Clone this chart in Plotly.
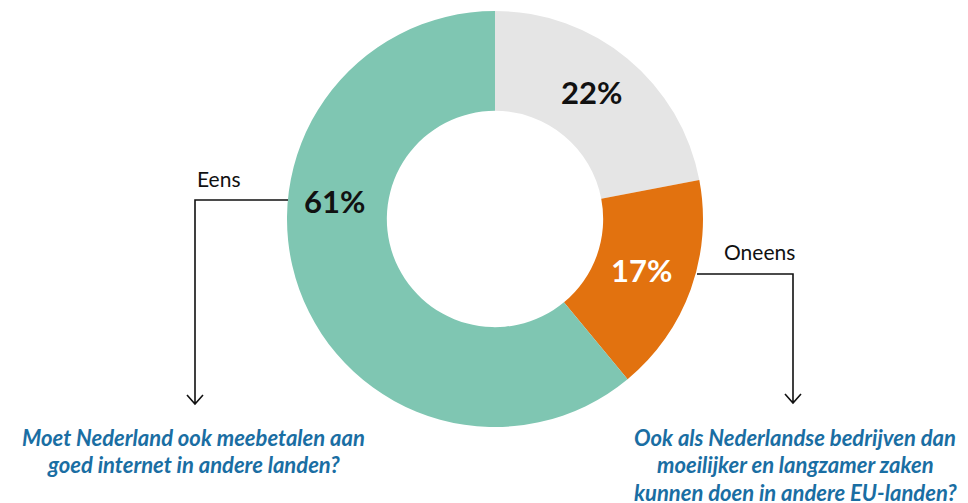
import plotly.graph_objects as go

# Survey answers (share of respondents, %)
answers = ["Weet niet", "Oneens", "Eens"]
shares = [22, 17, 61]
slice_colors = ["#e5e5e5", "#e2720f", "#7fc6b2"]
label_colors = ["#111111", "#ffffff", "#111111"]

question_left = ["Moet Nederland ook meebetalen aan", "goed internet in andere landen?"]
question_right = ["Ook als Nederlandse bedrijven dan", "moeilijker en langzamer zaken",
                  "kunnen doen in andere EU-landen?"]

W, H = 968, 503


def px(x):
    return x / W


def py(y):
    return 1 - y / H


# donut geometry in pixels
cx, cy, r_out = 495, 219, 208

fig = go.Figure(go.Pie(
    labels=answers,
    values=shares,
    marker=dict(colors=slice_colors, line=dict(width=0)),
    hole=0.52,
    sort=False,
    direction="clockwise",
    rotation=0,
    textinfo="none",
    hoverinfo="label+percent",
    showlegend=False,
    domain=dict(x=[px(cx - r_out), px(cx + r_out)], y=[py(cy + r_out), py(cy - r_out)]),
))

annotations = []

# percentage labels on the slices
pct_pos = [(591, 92), (641, 270), (334, 201)]
for v, col, (x, y) in zip(shares, label_colors, pct_pos):
    annotations.append(dict(
        x=px(x), y=py(y), xref="paper", yref="paper", text=f"{v}%", showarrow=False,
        xanchor="center", yanchor="middle",
        font=dict(family="Lato", size=31, color=col, weight="bold"),
    ))

# callout names
for txt, (x, y) in [("Eens", (219, 178)), ("Oneens", (759, 252))]:
    annotations.append(dict(
        x=px(x), y=py(y), xref="paper", yref="paper", text=txt, showarrow=False,
        xanchor="center", yanchor="middle",
        font=dict(family="Lato", size=21, color="#111111"),
    ))

# questions under the arrows
q_font = dict(family="Lato", size=22, color="#1a6ea3", weight="bold", style="italic")
for lines, xc, y0 in [(question_left, 193, 437), (question_right, 795, 437)]:
    for i, line in enumerate(lines):
        annotations.append(dict(
            x=px(xc), y=py(y0 + i * 27.5), xref="paper", yref="paper", text=line,
            showarrow=False, xanchor="center", yanchor="middle", font=q_font,
        ))

# connector lines with open arrowheads
line_style = dict(color="#111111", width=1.6)
shapes = []
for (x0, yh, xv, ytip) in [(288, 200, 195, 404), (697, 274, 793, 403)]:
    path = (f"M {px(x0)} {py(yh)} L {px(xv)} {py(yh)} L {px(xv)} {py(ytip)} "
            f"M {px(xv - 8)} {py(ytip - 9)} L {px(xv)} {py(ytip)} L {px(xv + 8)} {py(ytip - 9)}")
    shapes.append(dict(type="path", xref="paper", yref="paper", path=path, line=line_style))

fig.update_layout(
    width=W, height=H, autosize=False,
    margin=dict(l=0, r=0, t=0, b=0),
    paper_bgcolor="#ffffff", plot_bgcolor="#ffffff",
    annotations=annotations, shapes=shapes,
)

fig.write_html("out.html")
